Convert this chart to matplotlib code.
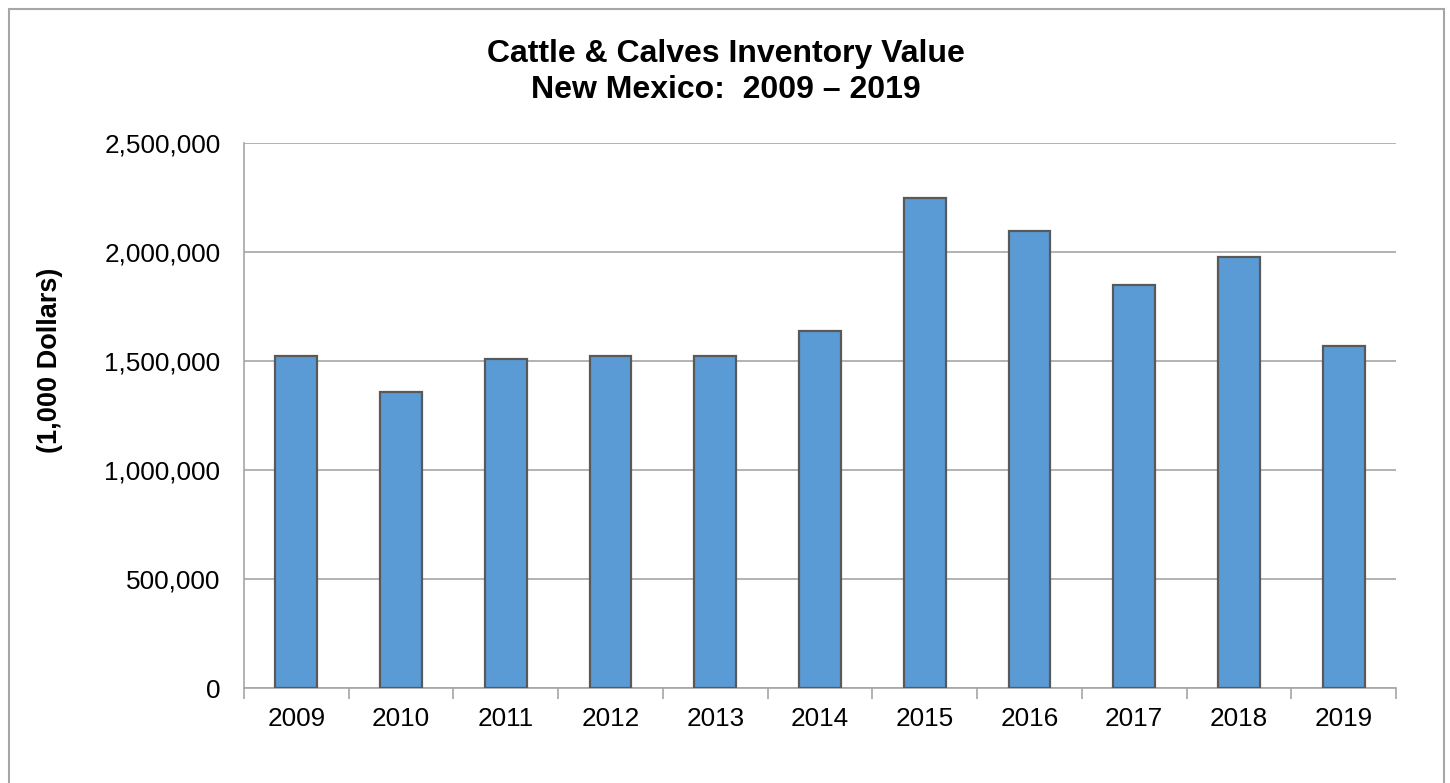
import matplotlib
matplotlib.use("Agg")
import matplotlib.pyplot as plt
from matplotlib.patches import Rectangle
from matplotlib.ticker import FuncFormatter, MultipleLocator

years = ["2009", "2010", "2011", "2012", "2013", "2014", "2015", "2016", "2017", "2018", "2019"]
values = [1523000, 1358000, 1509000, 1523000, 1523000, 1639000, 2249000, 2098000, 1847000, 1978000, 1570000]
title_line1 = "Cattle & Calves Inventory Value"
title_line2 = "New Mexico:  2009 \u2013 2019"
y_label = "(1,000 Dollars)"

plt.rcParams['font.family'] = ['Liberation Sans', 'DejaVu Sans']

W, H = 1450, 783
fig = plt.figure(figsize=(W / 100, H / 100), dpi=100)
fig.patch.set_facecolor("white")

left, right, top, bottom = 244, 1396, 143, 688
ax = fig.add_axes([left / W, 1 - bottom / H, (right - left) / W, (bottom - top) / H])

x = list(range(len(years)))
ax.bar(x, values, width=0.40, color="#5B9BD5", edgecolor="#595959", linewidth=1.6, zorder=3)

ax.set_xlim(-0.5, len(years) - 0.5)
ax.set_ylim(0, 2500000)
ax.yaxis.set_major_locator(MultipleLocator(500000))
ax.yaxis.set_major_formatter(FuncFormatter(lambda v, p: f"{int(v):,}"))
ax.grid(axis="y", color="#A6A6A6", linewidth=1.2, zorder=0)

ax.set_xticks(x)
ax.set_xticklabels(years)
ax.set_xticks([i - 0.5 for i in range(len(years) + 1)], minor=True)
ax.tick_params(axis="x", which="major", length=0, labelsize=18.8, pad=14)
ax.tick_params(axis="x", which="minor", length=8, width=1.2, color="#A6A6A6", direction="out")
ax.tick_params(axis="y", which="major", length=0, labelsize=18.8, pad=17)

for s in ["top", "right"]:
    ax.spines[s].set_visible(False)
for s in ["left", "bottom"]:
    ax.spines[s].set_color("#A6A6A6")
    ax.spines[s].set_linewidth(1.2)

fig.text(50 / W, 1 - 360 / H, y_label, rotation=90, ha="center", va="center",
         fontsize=19.5, fontweight="bold")

fig.text(726 / W, 1 - 62 / H, title_line1, ha="center", va="baseline", fontsize=23, fontweight="bold")
fig.text(726 / W, 1 - 98 / H, title_line2, ha="center", va="baseline", fontsize=23, fontweight="bold")

fig.patches.append(Rectangle((9 / W, -0.02), (1444 - 9) / W, 1.02 - 9 / H, transform=fig.transFigure,
                             fill=False, edgecolor="#A6A6A6", linewidth=1.5))

fig.savefig("out.png", dpi=100, facecolor="white")
